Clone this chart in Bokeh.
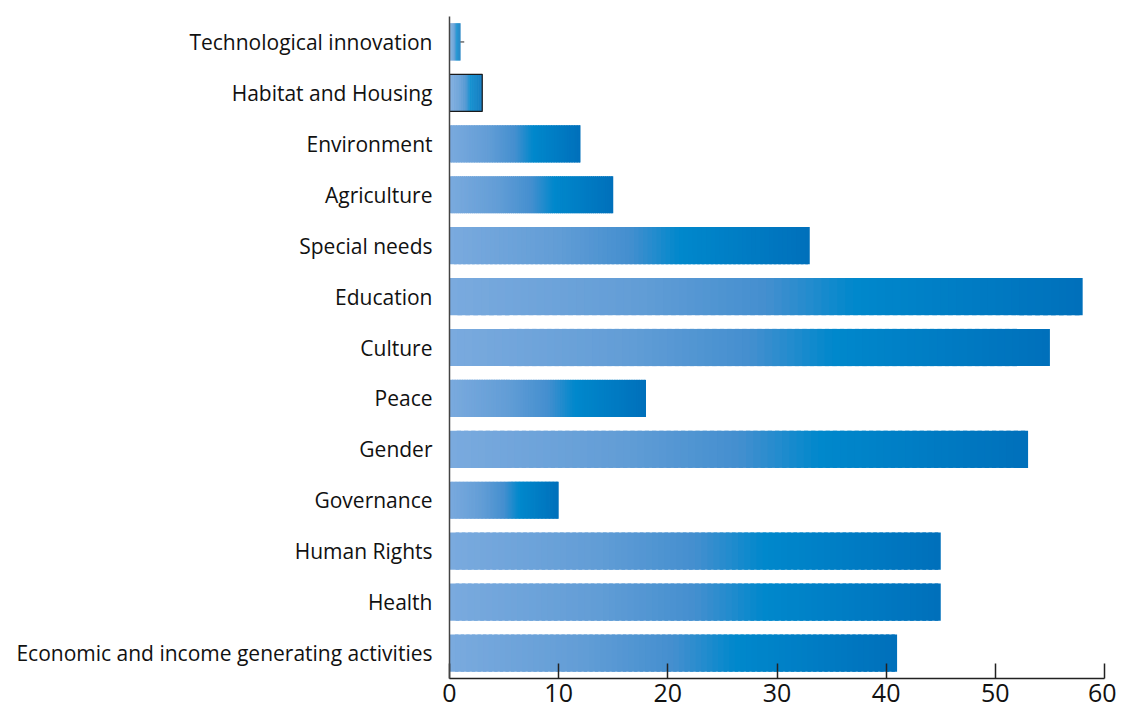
from bokeh.plotting import figure
from bokeh.models import FixedTicker, Range1d
from bokeh.embed import file_html
from bokeh.resources import INLINE

categories = ["Economic and income generating activities", "Health", "Human Rights",
              "Governance", "Gender", "Peace", "Culture", "Education", "Special needs",
              "Agriculture", "Environment", "Habitat and Housing", "Technological innovation"]
values = [41, 45, 45, 10, 53, 18, 55, 58, 33, 15, 12, 3, 1]
x_ticks = [0, 10, 20, 30, 40, 50, 60]

# gradient stops (fraction of bar length, rgb)
stops = [(0.0, (122, 170, 222)), (0.3, (98, 157, 214)), (0.5, (68, 143, 207)),
         (0.64, (0, 136, 204)), (1.0, (0, 112, 187))]

def grad(t):
    for (t0, c0), (t1, c1) in zip(stops[:-1], stops[1:]):
        if t <= t1:
            f = (t - t0) / (t1 - t0) if t1 > t0 else 0
            return "#%02x%02x%02x" % tuple(int(round(a + (b - a) * f)) for a, b in zip(c0, c1))
    return "#%02x%02x%02x" % stops[-1][1]

# gradient built from slices, each overlapping the next by half a slice
N = 80
ys, ls, rs, cs = [], [], [], []
for cat, v in zip(categories, values):
    for i in range(N):
        ys.append(cat)
        ls.append(v * i / N)
        rs.append(min(v, v * (i + 1.6) / N))
        cs.append(grad((i + 0.5) / N))

p = figure(y_range=categories, x_range=Range1d(0, 60), width=1116, height=716,
           output_backend="svg", toolbar_location=None,
           min_border_left=449, min_border_right=12, min_border_top=16, min_border_bottom=38)
p.hbar(y=ys, left=ls, right=rs, height=0.73, fill_color=cs, line_color=None)

# outline on Habitat and Housing bar
hi = categories.index("Habitat and Housing")
p.hbar(y=[categories[hi]], left=[0], right=[values[hi]], height=0.73,
       fill_color=None, line_color="#1a1a1a", line_width=1.2)
# small whisker on Technological innovation
ti = categories.index("Technological innovation")
p.segment(x0=[values[ti]], x1=[values[ti] + 0.35], y0=[categories[ti]], y1=[categories[ti]],
          line_color="#222222", line_width=1)

p.y_range.range_padding = 0
p.xgrid.visible = False
p.ygrid.visible = False
p.outline_line_color = None
p.background_fill_color = "white"
p.border_fill_color = "white"

xa = p.xaxis[0]
xa.ticker = FixedTicker(ticks=x_ticks)
xa.major_tick_in = 15
xa.major_tick_out = 0
xa.minor_tick_line_color = None
xa.axis_line_color = "#222222"
xa.axis_line_width = 1.5
xa.major_tick_line_color = "#222222"
xa.major_tick_line_width = 1.5
xa.major_label_text_font = "Open Sans"
xa.major_label_text_font_size = "25px"
xa.major_label_text_color = "#111111"
xa.major_label_standoff = 5

ya = p.yaxis[0]
ya.major_tick_line_color = None
ya.minor_tick_line_color = None
ya.axis_line_color = "#444444"
ya.axis_line_width = 1.5
ya.major_label_text_font = "Open Sans"
ya.major_label_text_font_size = "21px"
ya.major_label_text_color = "#111111"
ya.major_label_standoff = 11

open("out.html", "w").write(file_html(p, INLINE))
